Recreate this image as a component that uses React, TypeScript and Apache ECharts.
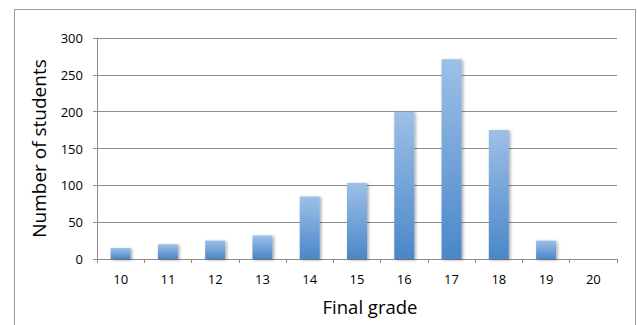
import React, { useEffect, useRef } from "react";
import * as echarts from "echarts";

const grades = ["10", "11", "12", "13", "14", "15", "16", "17", "18", "19", "20"];
const students = [15, 20, 25, 32, 85, 103, 200, 271, 175, 25, 0];
const yTicks = { min: 0, max: 300, interval: 50 };

const FONT = "'Open Sans', 'DejaVu Sans', sans-serif";

export default function App() {
  const ref = useRef<HTMLDivElement>(null);
  useEffect(() => {
    if (!ref.current) return;
    const chart = echarts.init(ref.current, null, { renderer: "svg" });
    chart.setOption({
      animation: false,
      backgroundColor: "#ffffff",
      textStyle: { fontFamily: FONT },
      grid: { left: 97, right: 20, top: 38, bottom: 66, containLabel: false },
      graphic: [
        { type: "line", shape: { x1: 14.5, y1: 9.5, x2: 635.5, y2: 9.5 }, style: { stroke: "#999999", lineWidth: 1 }, silent: true },
        { type: "line", shape: { x1: 14.5, y1: 9.5, x2: 14.5, y2: 325 }, style: { stroke: "#999999", lineWidth: 1 }, silent: true },
        { type: "line", shape: { x1: 635.5, y1: 9.5, x2: 635.5, y2: 325 }, style: { stroke: "#999999", lineWidth: 1 }, silent: true },
      ],
      xAxis: {
        type: "category",
        data: grades,
        boundaryGap: true,
        name: "Final grade",
        nameLocation: "middle",
        nameGap: 38,
        nameTextStyle: { fontSize: 18.5, color: "#000", fontFamily: FONT, padding: [0, 0, 0, 26] },
        axisLine: { lineStyle: { color: "#8c8c8c", width: 1 } },
        axisTick: { show: true, length: 4, alignWithLabel: false, lineStyle: { color: "#8c8c8c" } },
        axisLabel: { fontSize: 13, color: "#000", margin: 13, fontFamily: FONT },
        splitLine: { show: false },
      },
      yAxis: {
        type: "value",
        min: yTicks.min,
        max: yTicks.max,
        interval: yTicks.interval,
        name: "Number of students",
        nameLocation: "middle",
        nameGap: 49,
        nameTextStyle: { fontSize: 19, color: "#000", fontFamily: FONT },
        axisLine: { show: true, lineStyle: { color: "#8c8c8c", width: 1 } },
        axisTick: { show: true, length: 4, lineStyle: { color: "#8c8c8c" } },
        axisLabel: { fontSize: 13, color: "#000", margin: 14, fontFamily: FONT },
        splitLine: { show: true, lineStyle: { color: "#8c8c8c", width: 1 } },
      },
      series: [
        {
          type: "bar",
          data: students,
          barWidth: 20,
          itemStyle: {
            color: new echarts.graphic.LinearGradient(0, 0, 0, 1, [
              { offset: 0, color: "#9dc0e7" },
              { offset: 1, color: "#4a87c9" },
            ]),
            shadowColor: "rgba(0,0,0,0.35)",
            shadowBlur: 3,
            shadowOffsetX: 1.5,
            shadowOffsetY: 1,
          },
        },
      ],
    });
    return () => chart.dispose();
  }, []);
  return (
    <div ref={ref} style={{ position: "fixed", left: 0, top: 0, width: 637, height: 325 }} />
  );
}
